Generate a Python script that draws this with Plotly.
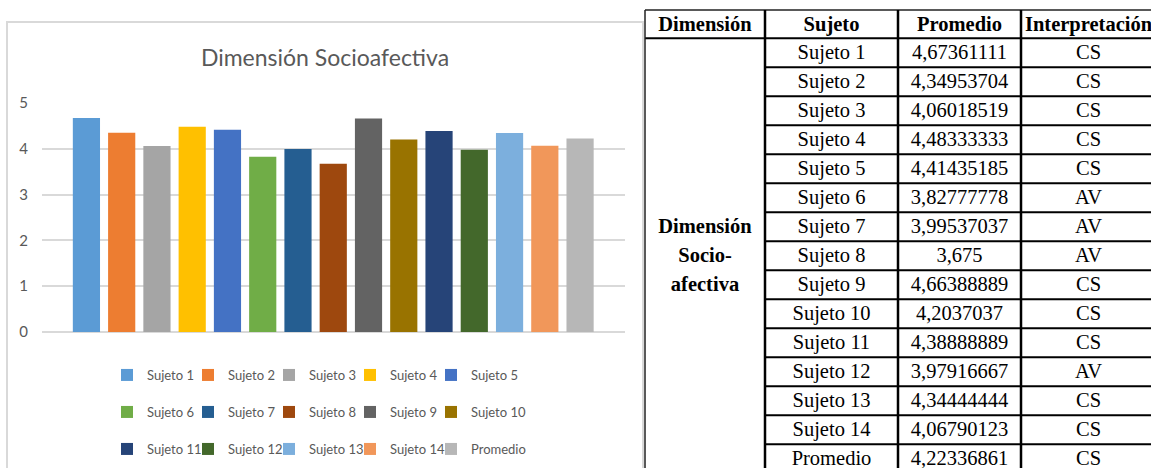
import plotly.graph_objects as go

W, H = 1151, 468

# ---------------- data ----------------
chart_title = "Dimensión Socioafectiva"
category = "Dimensión Socioafectiva"
series_names = ["Sujeto 1", "Sujeto 2", "Sujeto 3", "Sujeto 4", "Sujeto 5",
                "Sujeto 6", "Sujeto 7", "Sujeto 8", "Sujeto 9", "Sujeto 10",
                "Sujeto 11", "Sujeto 12", "Sujeto 13", "Sujeto 14", "Promedio"]
promedio_values = [4.67361111, 4.34953704, 4.06018519, 4.48333333, 4.41435185,
                   3.82777778, 3.99537037, 3.675, 4.66388889, 4.2037037,
                   4.38888889, 3.97916667, 4.34444444, 4.06790123, 4.22336861]
interpretacion = ["CS", "CS", "CS", "CS", "CS", "AV", "AV", "AV", "CS", "CS",
                  "CS", "AV", "CS", "CS", "CS"]
table_headers = ["Dimensión", "Sujeto", "Promedio", "Interpretación"]
dimension_label = ["Dimensión", "Socio-", "afectiva"]
y_ticks = [0, 1, 2, 3, 4, 5]

# ---------------- styles ----------------
colors = ["#5B9BD5", "#ED7D31", "#A5A5A5", "#FFC000", "#4472C4",
          "#70AD47", "#255E91", "#9E480E", "#636363", "#997300",
          "#264478", "#43682B", "#7CAFDD", "#F1975A", "#B7B7B7"]
SANS = "Lato, Liberation Sans, sans-serif"
SERIF = "Liberation Serif, Times New Roman, serif"
GRAY_TXT = "#595959"
GRID = "#D9D9D9"


def fmt(v):
    return f"{v:.8f}".rstrip("0").rstrip(".").replace(".", ",")


fig = go.Figure()

# one legend box per entry so every entry sits on the reference's 5-column grid
legend_ids = ["legend" if i == 0 else f"legend{i + 1}" for i in range(len(series_names))]
for i, (name, val) in enumerate(zip(series_names, promedio_values)):
    fig.add_trace(go.Bar(
        x=[category], y=[val], name=name,
        marker=dict(color=colors[i], line=dict(width=0)),
        legend=legend_ids[i], xaxis="x", yaxis="y",
    ))

# ---------------- table (drawn on a second pixel-scaled axis pair) ----------------
col_edges = [645, 765, 898, 1021, 1156]
col_centers = [(a + b) / 2 for a, b in zip(col_edges[:-1], col_edges[1:])]
tbl_top, head_bottom, row_h = 10, 38.3, 29
text_shift = 1.5
n_rows = len(series_names)
row_centers = [head_bottom + row_h * (k + 0.5) + text_shift for k in range(n_rows)]

common_txt = dict(mode="text", textposition="middle center", hoverinfo="skip",
                  showlegend=False, xaxis="x2", yaxis="y2", cliponaxis=False,
                  textfont=dict(family=SERIF, size=20.5, color="black"))

fig.add_trace(go.Scatter(x=col_centers, y=[(tbl_top + head_bottom) / 2 + text_shift] * 4,
                         text=[f"<b>{h}</b>" for h in table_headers], **common_txt))
fig.add_trace(go.Scatter(x=[col_centers[1]] * n_rows, y=row_centers,
                         text=series_names, **common_txt))
fig.add_trace(go.Scatter(x=[col_centers[2]] * n_rows, y=row_centers,
                         text=[fmt(v) for v in promedio_values], **common_txt))
fig.add_trace(go.Scatter(x=[col_centers[3]] * n_rows, y=row_centers,
                         text=interpretacion, **common_txt))
merged_center = head_bottom + row_h * n_rows / 2
nl = len(dimension_label)
fig.add_trace(go.Scatter(x=[col_centers[0]] * nl,
                         y=[merged_center + (j - (nl - 1) / 2) * row_h + text_shift for j in range(nl)],
                         text=[f"<b>{t}</b>" for t in dimension_label], **common_txt))

shapes = []
# chart frame
shapes.append(dict(type="rect", xref="paper", yref="paper", x0=7 / W, x1=643 / W,
                   y0=-0.1, y1=1 - 22 / H, line=dict(color=GRID, width=2),
                   fillcolor="rgba(0,0,0,0)", layer="above"))
# table lines
shapes.append(dict(type="line", xref="x2", yref="y2", x0=col_edges[0], x1=col_edges[-1],
                   y0=tbl_top, y1=tbl_top, line=dict(color="#222222", width=1.5)))
shapes.append(dict(type="line", xref="x2", yref="y2", x0=col_edges[0], x1=col_edges[-1],
                   y0=head_bottom, y1=head_bottom, line=dict(color="black", width=2)))
for k in range(1, n_rows + 1):
    yy = head_bottom + row_h * k
    shapes.append(dict(type="line", xref="x2", yref="y2", x0=col_edges[1], x1=col_edges[-1],
                       y0=yy, y1=yy, line=dict(color="black", width=2)))
for j, xx in enumerate(col_edges[:-1]):
    shapes.append(dict(type="line", xref="x2", yref="y2", x0=xx, x1=xx,
                       y0=tbl_top, y1=H + 10,
                       line=dict(color="#222222" if j == 0 else "black",
                                 width=1.5 if j == 0 else 2.5)))

layout = dict(
    width=W, height=H,
    margin=dict(l=0, r=0, t=0, b=0, autoexpand=False),
    paper_bgcolor="white", plot_bgcolor="white",
    barmode="group", bargap=0.092, bargroupgap=0.229,
    title=dict(text=chart_title, x=325 / W, y=1 - 58 / H, xanchor="center",
               yanchor="middle", xref="paper", yref="paper",
               font=dict(family=SANS, size=23, color=GRAY_TXT)),
    xaxis=dict(domain=[42 / W, 624.5 / W], type="category", range=[-0.5, 0.5],
               showticklabels=False, showgrid=False, zeroline=False, showline=False,
               fixedrange=True),
    yaxis=dict(domain=[1 - 332 / H, 1 - 103 / H], range=[0, 5], tickvals=y_ticks,
               showgrid=True, gridcolor=GRID, gridwidth=2,
               zeroline=True, zerolinecolor=GRID, zerolinewidth=2,
               showline=False, ticks="", ticklabelstandoff=13,
               tickfont=dict(family=SANS, size=15, color=GRAY_TXT), fixedrange=True),
    xaxis2=dict(domain=[630 / W, 1], range=[630, W], anchor="y2", visible=False,
                fixedrange=True),
    yaxis2=dict(domain=[0, 1], range=[H, 0], anchor="x2", visible=False,
                fixedrange=True),
    shapes=shapes,
    showlegend=True,
)

legend_x0, legend_dx = 107, 81
legend_rows_y = [375, 412, 449]
for i, lid in enumerate(legend_ids):
    layout[lid] = dict(orientation="h",
                       x=(legend_x0 + legend_dx * (i % 5)) / W, xanchor="left",
                       y=1 - legend_rows_y[i // 5] / H, yanchor="middle",
                       itemwidth=30,
                       font=dict(family=SANS, size=13, color=GRAY_TXT),
                       bgcolor="rgba(0,0,0,0)", traceorder="normal")

fig.update_layout(**layout)
fig.write_html("out.html")
